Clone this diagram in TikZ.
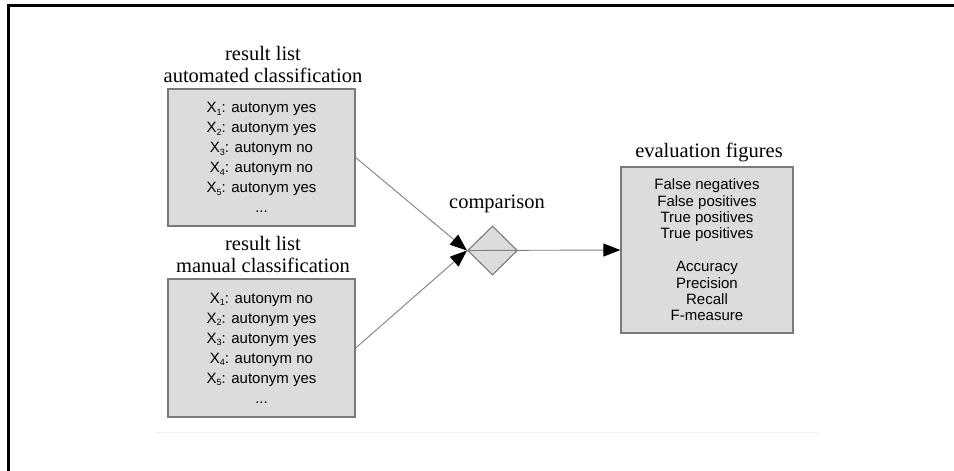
\documentclass[tikz,border=0pt]{standalone}
\usepackage{fontspec}
\setmainfont{Liberation Serif}
\setsansfont{Liberation Sans}
\usetikzlibrary{shapes.geometric,arrows.meta}
\definecolor{boxfill}{HTML}{DCDCDC}
\definecolor{boxedge}{HTML}{7A7A7A}
\definecolor{linegray}{HTML}{808080}
\tikzset{
  listbox/.style={draw=boxedge, line width=1.3pt, fill=boxfill, align=center,
    inner sep=0pt, font=\sffamily\fontsize{15}{20}\selectfont},
  evalbox/.style={draw=boxedge, line width=1.3pt, fill=boxfill, align=center,
    inner sep=0pt, font=\sffamily\fontsize{15}{16.4}\selectfont},
  title/.style={align=center, inner sep=0pt, font=\rmfamily\fontsize{20.5}{22}\selectfont},
  conn/.style={draw=linegray, line width=0.9pt, -{Triangle[length=17pt,width=13pt,fill=black,color=black]}},
  decision/.style={diamond, draw=boxedge, line width=1.1pt, fill=boxfill, inner sep=0pt,
    minimum width=50pt, minimum height=49pt},
  framelines/.style={draw=black, line width=2.5pt}
}
\newcommand{\xs}[1]{X\raisebox{-0.35ex}{\fontsize{9}{9}\selectfont #1}}
\begin{document}
\begin{tikzpicture}[x=1pt,y=-1pt]
\useasboundingbox (0,0) rectangle (954,471);
\fill[white] (0,0) rectangle (954,471);
% frame (top and left edges)
\coordinate (fa) at (954,5.5);
\coordinate (fb) at (8.5,5.5);
\coordinate (fc) at (8.5,471);
\draw[framelines] (fa) -- (fb) -- (fc);
% faint rule
\coordinate (ra) at (155,432);
\coordinate (rb) at (820,432);
\draw[black!5, line width=1pt] (ra) -- (rb);
% boxes
\node[listbox, minimum width=187pt, minimum height=137pt] (auto) at (261.5,157.5)
  {\xs{1}: autonym yes\\ \xs{2}: autonym yes\\ \xs{3}: autonym no\\ \xs{4}: autonym no\\ \xs{5}: autonym yes\\ ...};
\node[listbox, minimum width=187pt, minimum height=138pt] (man) at (261.5,348)
  {\xs{1}: autonym no\\ \xs{2}: autonym yes\\ \xs{3}: autonym yes\\ \xs{4}: autonym no\\ \xs{5}: autonym yes\\ ...};
\node[evalbox, minimum width=172pt, minimum height=166pt] (eval) at (707,250)
  {False negatives\\ False positives\\ True positives\\ True positives\\[16.4pt] Accuracy\\ Precision\\ Recall\\ F-measure};
\node[decision] (cmp) at (492.5,250.5) {};
% titles
\node[title] (tauto) at (263,64) {result list\\automated classification};
\node[title] (tman) at (263,254) {result list\\manual classification};
\node[title] (teval) at (709,152) {evaluation figures};
\node[title] (tcmp) at (497,204) {comparison};
% connectors
\draw[conn] (auto.east) -- (cmp.west);
\draw[conn] (man.east) -- (cmp.west);
\draw[conn] (cmp.west) -- (eval.west);
\end{tikzpicture}
\end{document}
